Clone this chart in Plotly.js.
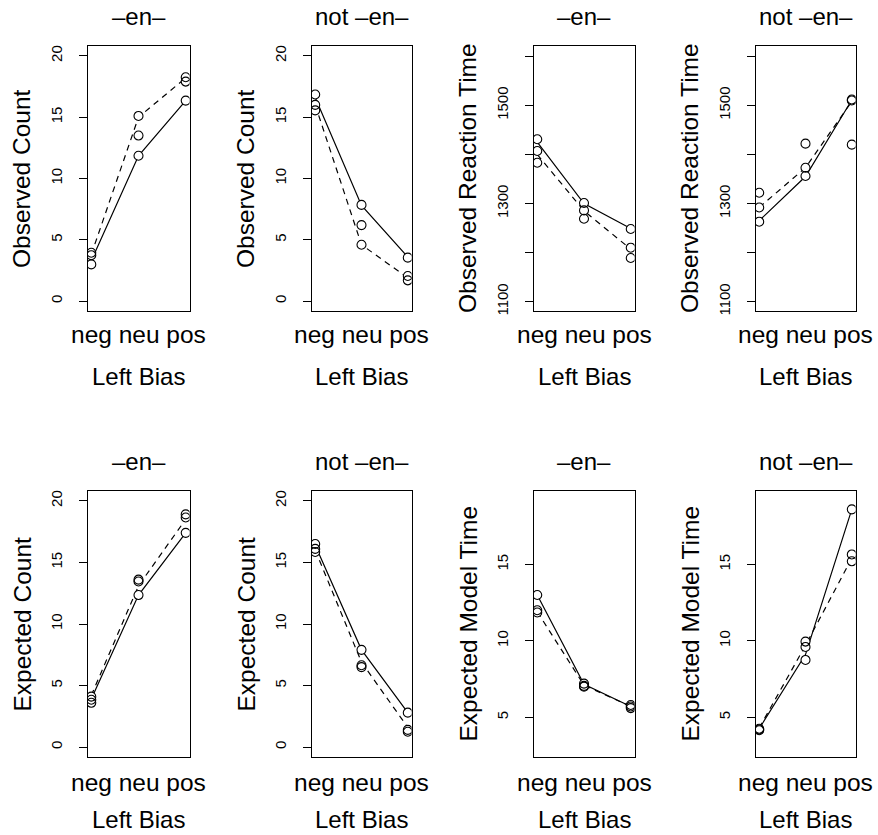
<!DOCTYPE html>
<html>
<head>
<meta charset="utf-8">
<script src="https://cdn.plot.ly/plotly-3.0.1.min.js"></script>
<style>html,body{margin:0;padding:0;background:#fff;}#chart{width:878px;height:835px;}</style>
</head>
<body>
<div id="chart"></div>
<script>
// ---------- data ----------
const categories = ['neg', 'neu', 'pos'];
const xLabel = 'Left Bias';
const panelTitles = ['–en–', 'not –en–', '–en–', 'not –en–', '–en–', 'not –en–', '–en–', 'not –en–'];
const yLabels = ['Observed Count', 'Observed Count', 'Observed Reaction Time', 'Observed Reaction Time',
                 'Expected Count', 'Expected Count', 'Expected Model Time', 'Expected Model Time'];

// circles: one inner array per category (neg, neu, pos)
const obsCountEnPts = [[3.95, 3.75, 3.0], [15.1, 13.5, 11.85], [18.25, 17.9, 16.35]];
const obsCountEnSolid = [3.3, 11.85, 16.35];
const obsCountEnDashed = [3.8, 15.0, 18.2];

const obsCountNotPts = [[16.85, 16.0, 15.55], [7.85, 6.2, 4.6], [3.55, 2.05, 1.7]];
const obsCountNotSolid = [16.6, 7.8, 3.6];
const obsCountNotDashed = [16.0, 4.6, 1.9];

const obsRtEnPts = [[1431, 1407, 1383], [1301, 1286, 1269], [1248, 1210, 1189]];
const obsRtEnSolid = [1425, 1300, 1249];
const obsRtEnDashed = [1400, 1285, 1207];

const obsRtNotPts = [[1322, 1292, 1263], [1422, 1373, 1356], [1512, 1510, 1420]];
const obsRtNotSolid = [1265, 1355, 1511];
const obsRtNotDashed = [1292, 1373, 1508];

const expCountEnPts = [[4.1, 3.85, 3.6], [13.6, 13.45, 12.35], [18.9, 18.65, 17.4]];
const expCountEnSolid = [3.9, 12.35, 17.4];
const expCountEnDashed = [4.2, 13.1, 18.5];

const expCountNotPts = [[16.5, 16.1, 15.85], [7.9, 6.65, 6.5], [2.8, 1.4, 1.25]];
const expCountNotSolid = [16.4, 7.9, 2.8];
const expCountNotDashed = [16.0, 6.9, 1.6];

const expTimeEnPts = [[13.0, 12.0, 11.85], [7.2, 7.05, 7.0], [5.8, 5.7, 5.6]];
const expTimeEnSolid = [13.0, 7.15, 5.7];
const expTimeEnDashed = [11.9, 7.1, 5.7];

const expTimeNotPts = [[4.25, 4.2, 4.15], [9.95, 9.6, 8.75], [18.6, 15.65, 15.2]];
const expTimeNotSolid = [4.25, 9.1, 18.6];
const expTimeNotDashed = [4.3, 9.7, 15.4];

const countTicks = [0, 5, 10, 15, 20];
const countTickText = ['0', '5', '10', '15', '20'];
const rtTicks = [1100, 1200, 1300, 1400, 1500, 1600];
const rtTickText = ['1100', '', '1300', '', '1500', ''];
const timeTicks = [5, 10, 15];
const timeTickText = ['5', '10', '15'];

// ---------- layout helpers ----------
const W = 878, H = 835;
const FONT = 'Liberation Sans, Arial, Helvetica, sans-serif';
const colsPx = [[87.5, 189.5], [311.5, 411.5], [533.5, 634.5], [755.5, 855.5]];
const rowsPx = [[46, 311], [491, 757]];

const panels = [
  {pts: obsCountEnPts, solid: obsCountEnSolid, dashed: obsCountEnDashed, range: [-0.8, 20.8], tv: countTicks, tt: countTickText},
  {pts: obsCountNotPts, solid: obsCountNotSolid, dashed: obsCountNotDashed, range: [-0.8, 20.8], tv: countTicks, tt: countTickText},
  {pts: obsRtEnPts, solid: obsRtEnSolid, dashed: obsRtEnDashed, range: [1081, 1621], tv: rtTicks, tt: rtTickText},
  {pts: obsRtNotPts, solid: obsRtNotSolid, dashed: obsRtNotDashed, range: [1081, 1621], tv: rtTicks, tt: rtTickText},
  {pts: expCountEnPts, solid: expCountEnSolid, dashed: expCountEnDashed, range: [-0.8, 20.8], tv: countTicks, tt: countTickText},
  {pts: expCountNotPts, solid: expCountNotSolid, dashed: expCountNotDashed, range: [-0.8, 20.8], tv: countTicks, tt: countTickText},
  {pts: expTimeEnPts, solid: expTimeEnSolid, dashed: expTimeEnDashed, range: [2.4, 19.8], tv: timeTicks, tt: timeTickText},
  {pts: expTimeNotPts, solid: expTimeNotSolid, dashed: expTimeNotDashed, range: [2.4, 19.8], tv: timeTicks, tt: timeTickText}
];

const traces = [];
const layout = {
  width: W, height: H,
  margin: {l: 0, r: 0, t: 0, b: 0},
  paper_bgcolor: '#fff', plot_bgcolor: '#fff',
  showlegend: false,
  font: {family: FONT, color: '#000'},
  annotations: []
};

function ann(text, px, py, size, angle) {
  layout.annotations.push({
    text: text, xref: 'paper', yref: 'paper', x: px / W, y: 1 - py / H,
    xanchor: 'center', yanchor: 'middle', showarrow: false,
    textangle: angle || 0, font: {family: FONT, size: size, color: '#000'}
  });
}

panels.forEach((p, i) => {
  const s = i === 0 ? '' : String(i + 1);
  const col = colsPx[i % 4], row = rowsPx[Math.floor(i / 4)];
  const xa = 'x' + s, ya = 'y' + s;
  const px = [], py = [];
  p.pts.forEach((vals, k) => vals.forEach(v => { px.push(categories[k]); py.push(v); }));

  traces.push({x: categories, y: p.solid, xaxis: xa, yaxis: ya, type: 'scatter', mode: 'lines',
    line: {color: '#000', width: 1.2}, hoverinfo: 'skip'});
  traces.push({x: categories, y: p.dashed, xaxis: xa, yaxis: ya, type: 'scatter', mode: 'lines',
    line: {color: '#000', width: 1.2, dash: '6px,5px'}, hoverinfo: 'skip'});
  traces.push({x: px, y: py, xaxis: xa, yaxis: ya, type: 'scatter', mode: 'markers',
    marker: {symbol: 'circle', size: 9, color: '#fff', line: {width: 0}}, hoverinfo: 'skip'});
  traces.push({x: px, y: py, xaxis: xa, yaxis: ya, type: 'scatter', mode: 'markers',
    marker: {symbol: 'circle-open', size: 9, color: '#000', line: {width: 1.1, color: '#000'}}});

  layout['xaxis' + s] = {
    domain: [col[0] / W, col[1] / W], anchor: ya, type: 'category',
    categoryorder: 'array', categoryarray: categories, range: [-0.08, 2.08],
    showline: true, mirror: true, linecolor: '#000', linewidth: 1,
    ticks: '', showticklabels: false, showgrid: false, zeroline: false, fixedrange: true
  };
  layout['yaxis' + s] = {
    domain: [1 - row[1] / H, 1 - row[0] / H], anchor: xa, range: p.range,
    tickmode: 'array', tickvals: p.tv, ticktext: p.tt,
    ticks: 'outside', ticklen: 8, tickwidth: 1, tickcolor: '#000', tickangle: -90,
    ticklabelstandoff: 11,
    tickfont: {family: FONT, size: 15, color: '#000'},
    showline: true, mirror: true, linecolor: '#000', linewidth: 1,
    showgrid: false, zeroline: false, fixedrange: true
  };

  const cx = (col[0] + col[1]) / 2, cy = (row[0] + row[1]) / 2;
  const isBottom = Math.floor(i / 4) === 1;
  ann(panelTitles[i], cx, row[0] - 29, 24);
  ann(yLabels[i], col[0] - 66, cy, 24.5, -90);
  ann(categories.join(' '), cx, row[1] + (isBottom ? 25 : 24), 24.5);
  ann(xLabel, cx, row[1] + (isBottom ? 62 : 66), 24);
});

Plotly.newPlot('chart', traces, layout, {staticPlot: true});
</script>
</body>
</html>
